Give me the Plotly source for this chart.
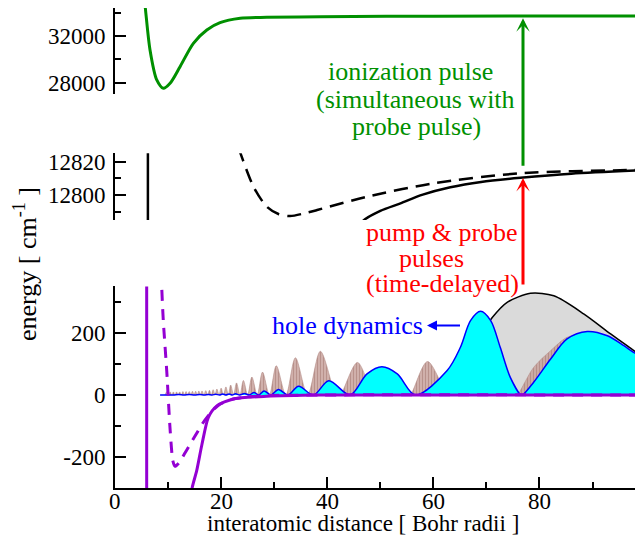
import plotly.graph_objects as go

# ---------------- data ----------------
# top panel (ionic potential)
GREEN_X = [5.55, 5.72, 6.6, 7.87, 9.11, 10.38, 12.26, 14.77, 17.3, 19.8, 23.6, 28.6, 38.7, 60, 99]
GREEN_Y = [35000, 34374, 30800, 28229, 27518, 27946, 29369, 31374, 32514, 33140, 33517, 33603, 33654, 33700, 33714]

# middle panel (excited potentials)
MID_WALL_X = [6.2, 6.2]
MID_WALL_Y = [12830, 12780]
MID_SOLID_X = [46.3, 46.8, 50.0, 53.8, 58.0, 63.2, 69.0, 76.4, 86.0, 99]
MID_SOLID_Y = [12781, 12784.6, 12790.5, 12795, 12800.2, 12804.6, 12807.8, 12810.3, 12812.8, 12814.8]
MID_DASH_X = [23.3, 23.6, 26.1, 28.6, 30.8, 33.0, 36.2, 38.1, 47.5, 60.0, 76.4, 97.7, 99]
MID_DASH_Y = [12828, 12825.4, 12805, 12793, 12788.6, 12787.4, 12789.4, 12791, 12799, 12807, 12813, 12815, 12815.1]

# bottom panel (ground potentials)
LOW_WALL_X = [5.97, 5.97]
LOW_WALL_Y = [400, -400]
LOW_SOLID_X = [14.3, 14.5, 15.4, 16.4, 17.6, 19.2, 22.3, 28.6, 38.7, 99]
LOW_SOLID_Y = [-360, -303, -244, -158, -72, -35, -13, -4, 0, 0]
LOW_DASH_X = [8.75, 8.8, 9.1, 9.75, 10.4, 10.9, 11.3, 12.0, 13.5, 15.0, 16.5, 18.0, 19.5, 22.0, 27.4, 38.7, 99]
LOW_DASH_Y = [400, 352, 240, 78, -115, -212, -230, -220, -178, -135, -92, -58, -33, -14, -3, 0, 0]

# wave packets
GRAY_X = [60, 64, 68, 71.1, 73.9, 78.3, 82.7, 88.4, 93.4, 97.8, 99]
GRAY_Y = [0, 60, 170, 250, 299, 328, 320, 261, 197, 143, 128]

BROWN_X = [9.4, 9.8, 10.1, 10.4, 10.7, 11.0, 11.3, 11.6, 11.9, 12.2, 12.5, 12.8, 13.1, 13.4, 13.7,
           14.0, 14.3, 14.6, 14.9, 15.2, 15.5, 15.8, 16.1, 16.4, 16.75, 17.1, 17.45, 17.8, 18.15,
           18.5, 18.85, 19.2, 19.6, 20.0, 20.45, 20.9, 21.35, 21.8, 22.35, 22.9, 23.55, 24.2, 25.0,
           25.8, 26.8, 27.8, 29.1, 30.4, 32.2, 34.0, 36.3, 38.7, 41.6, 41.9, 42.2, 42.5, 45.7, 48.6,
           48.9, 55.4, 55.7, 58.9, 62.6, 62.9, 75.5, 75.8, 78.9, 82.1, 85.2, 88.0, 92.0, 96.0, 99]
BROWN_Y = [0, 11, 0, 10, 0, 10, 0, 10, 0, 10, 0, 11, 0, 11, 0,
           11, 0, 12, 0, 12, 0, 13, 0, 13, 0, 14, 0, 15, 0,
           17, 0, 19, 0, 22, 0, 26, 0, 32, 0, 39, 0, 47, 0,
           58, 0, 74, 0, 94, 0, 120, 0, 141, 0, 0, 0, 0, 105, 0,
           0, 0, 0, 108, 0, 0, 0, 0, 89, 143, 186, 195, 175, 135, 110]

CYAN_X = [8.5, 11.0, 12.0, 13.0, 14.0, 15.0, 16.0, 16.8, 17.6, 18.3, 19.0, 19.7, 20.3, 20.9, 21.5,
          22.1, 22.7, 23.5, 24.4, 25.3, 26.2, 27.1, 28.1, 29.4, 30.8, 32.6, 34.6, 37.4, 40.3,
          44.3, 47.5, 50.3, 53.2, 56.6, 62.6, 65.1, 67.0, 68.9, 70.8, 72.6, 74.5, 76.5, 76.8,
          78.9, 82.1, 85.2, 89.0, 92.8, 95.9, 97.8, 99]
CYAN_Y = [0, 0, 1.5, 0, 1.5, 0, 2, 0, 2, 0, 2.5, 0, 3, 0, 3.5,
          0, 4, 0, 5, 0, 8, 0, 13, 0, 18, 0, 28, 0, 46,
          0, 68, 91, 68, 0, 79, 154, 240, 270, 240, 154, 57, 0, 0,
          41, 116, 181, 205, 191, 159, 137, 128]

# axes ticks
X_RANGE = [0, 98]
X_TICKS = [0, 20, 40, 60, 80]
LOW_TICKS = [-200, 0, 200]
MID_TICKS = [12800, 12820]
TOP_TICKS = [28000, 32000]

# texts
GREEN_LINES = ["ionization pulse", "(simultaneous with", "probe pulse)"]
RED_LINES = ["pump &amp; probe", "pulses", "(time-delayed)"]

FONT = "Liberation Serif"
GREEN = "#009000"
PURPLE = "#9400d3"

fig = go.Figure()

# top
fig.add_trace(go.Scatter(x=GREEN_X, y=GREEN_Y, yaxis="y3", mode="lines",
                         line=dict(color=GREEN, width=3, shape="spline", smoothing=0.8)))
# middle
fig.add_trace(go.Scatter(x=MID_WALL_X, y=MID_WALL_Y, yaxis="y2", mode="lines",
                         line=dict(color="black", width=2.5)))
fig.add_trace(go.Scatter(x=MID_SOLID_X, y=MID_SOLID_Y, yaxis="y2", mode="lines",
                         line=dict(color="black", width=2.5, shape="spline", smoothing=0.8)))
fig.add_trace(go.Scatter(x=MID_DASH_X, y=MID_DASH_Y, yaxis="y2", mode="lines",
                         line=dict(color="black", width=2.5, dash="14px,8px", shape="spline", smoothing=0.8)))
# bottom: packets
fig.add_trace(go.Scatter(x=GRAY_X, y=GRAY_Y, yaxis="y", mode="lines", fill="tozeroy",
                         fillcolor="rgb(218,218,218)",
                         line=dict(color="black", width=1.5, shape="spline", smoothing=0.8)))
fig.add_trace(go.Scatter(x=BROWN_X, y=BROWN_Y, yaxis="y", mode="lines", fill="tozeroy",
                         fillcolor="rgba(195,155,150,0.85)",
                         fillpattern=dict(shape="|", fgcolor="rgb(160,115,110)",
                                          bgcolor="rgba(200,162,157,0.85)", size=3, solidity=0.35),
                         line=dict(color="rgb(180,140,135)", width=0.6, shape="spline", smoothing=0.9)))
fig.add_trace(go.Scatter(x=CYAN_X, y=CYAN_Y, yaxis="y", mode="lines", fill="tozeroy",
                         fillcolor="#00ffff",
                         line=dict(color="#0000ff", width=1.5, shape="spline", smoothing=0.9)))
# bottom: potentials
fig.add_trace(go.Scatter(x=LOW_WALL_X, y=LOW_WALL_Y, yaxis="y", mode="lines",
                         line=dict(color=PURPLE, width=3)))
fig.add_trace(go.Scatter(x=LOW_SOLID_X, y=LOW_SOLID_Y, yaxis="y", mode="lines",
                         line=dict(color=PURPLE, width=3, shape="spline", smoothing=0.7)))
fig.add_trace(go.Scatter(x=LOW_DASH_X, y=LOW_DASH_Y, yaxis="y", mode="lines",
                         line=dict(color=PURPLE, width=3, dash="11px,8px", shape="spline", smoothing=0.7)))

axis_common = dict(showline=True, linecolor="black", linewidth=2, ticks="inside", ticklen=11,
                   tickwidth=1.5, tickcolor="black", showgrid=False, zeroline=False,
                   tickfont=dict(family=FONT, size=23, color="black"))

fig.update_layout(
    width=635, height=537,
    margin=dict(l=115, r=0, t=8, b=49),
    plot_bgcolor="white", paper_bgcolor="white",
    showlegend=False,
    font=dict(family=FONT, size=22, color="black"),
    xaxis=dict(range=X_RANGE, anchor="y", domain=[0, 1], dtick=20, tick0=0,
               showticklabels=False,
               minor=dict(ticks="inside", ticklen=6, dtick=10, tick0=0, tickcolor="black", tickwidth=1.5),
               **axis_common),
    yaxis=dict(domain=[0, 0.4198], range=[-300, 350], anchor="x",
               tickmode="array", tickvals=LOW_TICKS, ticktext=[str(v) for v in LOW_TICKS],
               minor=dict(ticks="inside", ticklen=6, dtick=100, tick0=0, tickcolor="black", tickwidth=1.5),
               ticklabelstandoff=3, **axis_common),
    yaxis2=dict(domain=[0.5583, 0.6973], range=[12785, 12825], anchor="x",
                tickmode="array", tickvals=MID_TICKS, ticktext=[str(v) for v in MID_TICKS],
                minor=dict(ticks="inside", ticklen=6, dtick=10, tick0=0, tickcolor="black", tickwidth=1.5),
                ticklabelstandoff=3, **axis_common),
    yaxis3=dict(domain=[0.8202, 1.0], range=[27000, 34400], anchor="x",
                tickmode="array", tickvals=TOP_TICKS, ticktext=[str(v) for v in TOP_TICKS],
                minor=dict(ticks="inside", ticklen=6, dtick=2000, tick0=0, tickcolor="black", tickwidth=1.5),
                ticklabelstandoff=3, **axis_common),
)


def px_x(p):
    return (p - 115) / 520


def px_y(p):
    return (488 - p) / 480


# x tick labels (placed on the x data scale)
for v in X_TICKS:
    fig.add_annotation(text=str(v), x=v, xref="x", y=px_y(501), yref="paper",
                       xanchor="center", yanchor="middle", showarrow=False,
                       font=dict(family=FONT, size=23, color="black"))

ann = [
    dict(text="energy [ cm<sup>-1</sup> ]", x=px_x(25), y=px_y(264), textangle=-90,
         font=dict(size=26, color="black")),
    dict(text="interatomic distance [ Bohr radii ]", x=px_x(363), y=px_y(523),
         font=dict(size=23, color="black")),
    dict(text="hole dynamics", x=px_x(425), y=px_y(325), xanchor="right",
         font=dict(size=26, color="#0000ff")),
]
for txt, cx, cy in zip(GREEN_LINES, [410, 415, 416], [72, 99, 126]):
    ann.append(dict(text=txt, x=px_x(cx), y=px_y(cy), font=dict(size=26, color=GREEN)))
for txt, cx, cy in zip(RED_LINES, [442, 431, 442], [232, 258, 283]):
    ann.append(dict(text=txt, x=px_x(cx), y=px_y(cy), font=dict(size=26, color="#ff0000")))

for a in ann:
    a.update(xref="paper", yref="paper", showarrow=False)
    a.setdefault("xanchor", "center")
    a["yanchor"] = "middle"
    fig.add_annotation(**a)

arrows = [
    dict(x=px_x(427), y=px_y(325.5), ax=35, ay=0, arrowcolor="#0000ff", arrowwidth=2, arrowhead=2, arrowsize=1),
    dict(x=px_x(523), y=px_y(18.3), ax=0, ay=150, arrowcolor=GREEN, arrowwidth=3, arrowhead=3, arrowsize=0.75),
    dict(x=px_x(523), y=px_y(178), ax=0, ay=109, arrowcolor="#ff0000", arrowwidth=3, arrowhead=3, arrowsize=0.75),
]
for a in arrows:
    fig.add_annotation(text=" ", xref="paper", yref="paper", axref="pixel", ayref="pixel",
                       showarrow=True, font=dict(size=2), **a)

fig.write_html("out.html")
